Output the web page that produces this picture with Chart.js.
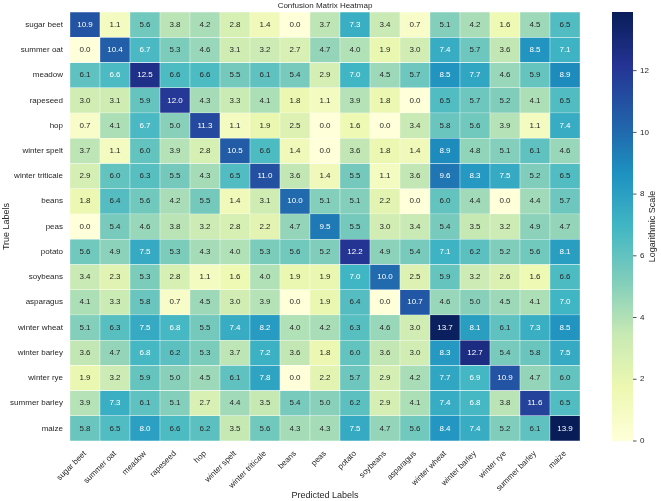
<!DOCTYPE html>
<html>
<head>
<meta charset="utf-8">
<script src="https://cdn.jsdelivr.net/npm/chart.js@4.4.0/dist/chart.umd.min.js"></script>
<style>
html, body { margin: 0; padding: 0; background: #fff; }
canvas { display: block; }
</style>
</head>
<body>
<canvas id="heatmap" width="661" height="501"></canvas>
<script>
var categorias = ['sugar beet', 'summer oat', 'meadow', 'rapeseed', 'hop', 'winter spelt', 'winter triticale',
    'beans', 'peas', 'potato', 'soybeans', 'asparagus', 'winter wheat', 'winter barley', 'winter rye',
    'summer barley', 'maize'];

// una fila por clase verdadera (columnas = clase predicha)
var sugarBeet = [10.9, 1.1, 5.6, 3.8, 4.2, 2.8, 1.4, 0.0, 3.7, 7.3, 3.4, 0.7, 5.1, 4.2, 1.6, 4.5, 6.5];
var summerOat = [0.0, 10.4, 6.7, 5.3, 4.6, 3.1, 3.2, 2.7, 4.7, 4.0, 1.9, 3.0, 7.4, 5.7, 3.6, 8.5, 7.1];
var meadow = [6.1, 6.64, 12.5, 6.6, 6.6, 5.5, 6.1, 5.4, 2.9, 7.0, 4.5, 5.7, 8.5, 7.7, 4.6, 5.9, 8.9];
var rapeseed = [3.0, 3.1, 5.9, 12.0, 4.3, 3.3, 4.1, 1.8, 1.1, 3.9, 1.8, 0.0, 6.5, 5.7, 5.2, 4.1, 6.5];
var hop = [0.7, 4.1, 6.7, 5.0, 11.3, 1.1, 1.9, 2.5, 0.0, 1.6, 0.0, 3.4, 5.8, 5.6, 3.9, 1.1, 7.4];
var winterSpelt = [3.7, 1.1, 6.0, 3.9, 2.8, 10.5, 6.6, 1.4, 0.0, 3.6, 1.8, 1.4, 8.9, 4.8, 5.1, 6.1, 4.6];
var winterTriticale = [2.9, 6.0, 6.3, 5.5, 4.3, 6.5, 11.0, 3.6, 1.4, 5.5, 1.1, 3.6, 9.6, 8.3, 7.5, 5.2, 6.5];
var beans = [1.8, 6.4, 5.6, 4.2, 5.5, 1.4, 3.1, 10.0, 5.1, 5.1, 2.2, 0.0, 6.0, 4.4, 0.0, 4.4, 5.7];
var peas = [0.0, 5.4, 4.6, 3.8, 3.2, 2.8, 2.2, 4.7, 9.5, 5.5, 3.0, 3.4, 5.4, 3.5, 3.2, 4.9, 4.7];
var potato = [5.6, 4.9, 7.5, 5.3, 4.3, 4.0, 5.3, 5.6, 5.2, 12.2, 4.9, 5.4, 7.1, 6.2, 5.2, 5.6, 8.1];
var soybeans = [3.4, 2.3, 5.3, 2.8, 1.1, 1.6, 4.0, 1.9, 1.9, 7.0, 10.0, 2.5, 5.9, 3.2, 2.6, 1.6, 6.6];
var asparagus = [4.1, 3.3, 5.8, 0.7, 4.5, 3.0, 3.9, 0.0, 1.9, 6.4, 0.0, 10.7, 4.6, 5.0, 4.5, 4.1, 7.0];
var winterWheat = [5.1, 6.3, 7.5, 6.8, 5.5, 7.4, 8.2, 4.0, 4.2, 6.3, 4.6, 3.0, 13.7, 8.1, 6.1, 7.3, 8.5];
var winterBarley = [3.6, 4.7, 6.8, 6.2, 5.3, 3.7, 7.2, 3.6, 1.8, 6.0, 3.6, 3.0, 8.3, 12.7, 5.4, 5.8, 7.5];
var winterRye = [1.9, 3.2, 5.9, 5.0, 4.5, 6.1, 7.8, 0.0, 2.2, 5.7, 2.9, 4.2, 7.7, 6.9, 10.9, 4.7, 6.0];
var summerBarley = [3.9, 7.3, 6.1, 5.1, 2.7, 4.4, 3.5, 5.4, 5.0, 6.2, 2.9, 4.1, 7.4, 6.8, 3.8, 11.6, 6.5];
var maize = [5.8, 6.5, 8.0, 6.6, 6.2, 3.5, 5.6, 4.3, 4.3, 7.5, 4.7, 5.6, 8.4, 7.4, 5.2, 6.1, 13.9];

var filas = [sugarBeet, summerOat, meadow, rapeseed, hop, winterSpelt, winterTriticale, beans, peas,
    potato, soybeans, asparagus, winterWheat, winterBarley, winterRye, summerBarley, maize];

var ticksEscala = [0, 2, 4, 6, 8, 10, 12];
var minEscala = 0;
var maxEscala = 13.9;

var fuente = "'Liberation Sans', Arial, sans-serif";
var gris = '#262626';

// YlGnBu
var paleta = [[255, 255, 217], [237, 248, 177], [199, 233, 180], [127, 205, 187], [65, 182, 196],
    [29, 145, 192], [34, 94, 168], [37, 52, 148], [8, 29, 88]];

function colorDe(v) {
    var t = (v - minEscala) / (maxEscala - minEscala);
    t = Math.max(0, Math.min(1, t)) * (paleta.length - 1);
    var i = Math.min(Math.floor(t), paleta.length - 2);
    var f = t - i;
    var c = [];
    for (var k = 0; k < 3; k++) {
        c[k] = Math.round(paleta[i][k] + (paleta[i + 1][k] - paleta[i][k]) * f);
    }
    return c;
}

function rgb(c) {
    return 'rgb(' + c[0] + ',' + c[1] + ',' + c[2] + ')';
}

function luminancia(c) {
    var l = c.map(function (x) {
        x = x / 255;
        return x <= 0.03928 ? x / 12.92 : Math.pow((x + 0.055) / 1.055, 2.4);
    });
    return 0.2126 * l[0] + 0.7152 * l[1] + 0.0722 * l[2];
}

var datasets = filas.map(function (fila, r) {
    return {
        label: categorias[r],
        data: fila.map(function () { return [r - 0.5, r + 0.5]; }),
        valores: fila,
        backgroundColor: fila.map(function (v) { return rgb(colorDe(v)); }),
        borderColor: '#ffffff',
        borderWidth: 0.5,
        borderSkipped: false,
        barPercentage: 1,
        categoryPercentage: 1
    };
});

// numeros dentro de cada celda
var anotaciones = {
    id: 'anotaciones',
    afterDatasetsDraw: function (chart) {
        var ctx = chart.ctx;
        ctx.save();
        ctx.font = '8px ' + fuente;
        ctx.textAlign = 'center';
        ctx.textBaseline = 'middle';
        chart.data.datasets.forEach(function (ds, d) {
            var meta = chart.getDatasetMeta(d);
            meta.data.forEach(function (el, i) {
                var v = ds.valores[i];
                var p = el.getCenterPoint();
                ctx.fillStyle = luminancia(colorDe(v)) > 0.408 ? gris : '#ffffff';
                ctx.fillText(v.toFixed(1), p.x, p.y);
            });
        });
        ctx.restore();
    }
};

// barra de color a la derecha
var barraColor = {
    id: 'barraColor',
    afterDraw: function (chart) {
        var s = chart.scales.cb;
        var ctx = chart.ctx;
        var x0 = s.left + 32, ancho = 21;
        var yMin = s.getPixelForValue(minEscala);
        var yMax = s.getPixelForValue(maxEscala);
        ctx.save();
        var g = ctx.createLinearGradient(0, yMin, 0, yMax);
        for (var k = 0; k <= 40; k++) {
            var v = minEscala + (maxEscala - minEscala) * k / 40;
            g.addColorStop(k / 40, rgb(colorDe(v)));
        }
        ctx.fillStyle = g;
        ctx.fillRect(x0, yMax, ancho, yMin - yMax);
        ctx.strokeStyle = gris;
        ctx.lineWidth = 0.8;
        ticksEscala.forEach(function (t) {
            var y = s.getPixelForValue(t);
            ctx.beginPath();
            ctx.moveTo(x0 + ancho, y);
            ctx.lineTo(x0 + ancho + 3.5, y);
            ctx.stroke();
        });
        ctx.fillStyle = gris;
        ctx.font = '9px ' + fuente;
        ctx.textAlign = 'center';
        ctx.textBaseline = 'middle';
        ctx.translate(653, (yMin + yMax) / 2);
        ctx.rotate(-Math.PI / 2);
        ctx.fillText('Logarithmic Scale', 0, 0);
        ctx.restore();
    }
};

function sinRelleno(s) {
    s.paddingTop = 0;
    s.paddingBottom = 0;
}

var chart = new Chart(document.getElementById('heatmap').getContext('2d'), {
    type: 'bar',
    data: { labels: categorias, datasets: datasets },
    options: {
        responsive: false,
        animation: false,
        events: [],
        indexAxis: 'x',
        layout: { padding: 0 },
        plugins: {
            legend: { display: false },
            tooltip: { enabled: false },
            title: {
                display: true,
                text: 'Confusion Matrix Heatmap',
                fullSize: false,
                color: gris,
                font: { family: fuente, size: 8, weight: 'normal' },
                padding: { top: 0.5, bottom: 1.9 }
            }
        },
        scales: {
            x: {
                type: 'category',
                labels: categorias,
                stacked: true,
                grid: { display: false, drawTicks: false },
                border: { display: false },
                ticks: {
                    autoSkip: false, minRotation: 45, maxRotation: 45, padding: 8,
                    color: gris, font: { family: fuente, size: 8 }
                },
                title: {
                    display: true, text: 'Predicted Labels', color: gris,
                    font: { family: fuente, size: 9 }, padding: { top: 0, bottom: 0 }
                },
                afterFit: function (s) { s.height = 60; }
            },
            y: {
                type: 'linear',
                min: -0.5,
                max: 16.5,
                reverse: true,
                stacked: false,
                grid: { display: false, drawTicks: false },
                border: { display: false },
                afterBuildTicks: function (s) {
                    s.ticks = categorias.map(function (c, i) { return { value: i }; });
                },
                ticks: {
                    autoSkip: false, padding: 7, color: gris, font: { family: fuente, size: 8 },
                    callback: function (v) { return categorias[v]; }
                },
                title: {
                    display: true, text: 'True Labels', color: gris,
                    font: { family: fuente, size: 9 }, padding: { top: 1, bottom: 0 }
                },
                afterFit: function (s) { s.width = 70; sinRelleno(s); }
            },
            cb: {
                type: 'linear',
                position: 'right',
                min: minEscala,
                max: maxEscala,
                grid: { display: false, drawTicks: false },
                border: { display: false },
                afterBuildTicks: function (s) {
                    s.ticks = ticksEscala.map(function (v) { return { value: v }; });
                },
                ticks: { padding: 60, color: gris, font: { family: fuente, size: 8 } },
                afterFit: function (s) { s.width = 81; sinRelleno(s); }
            }
        }
    },
    plugins: [anotaciones, barraColor]
});
</script>
</body>
</html>
